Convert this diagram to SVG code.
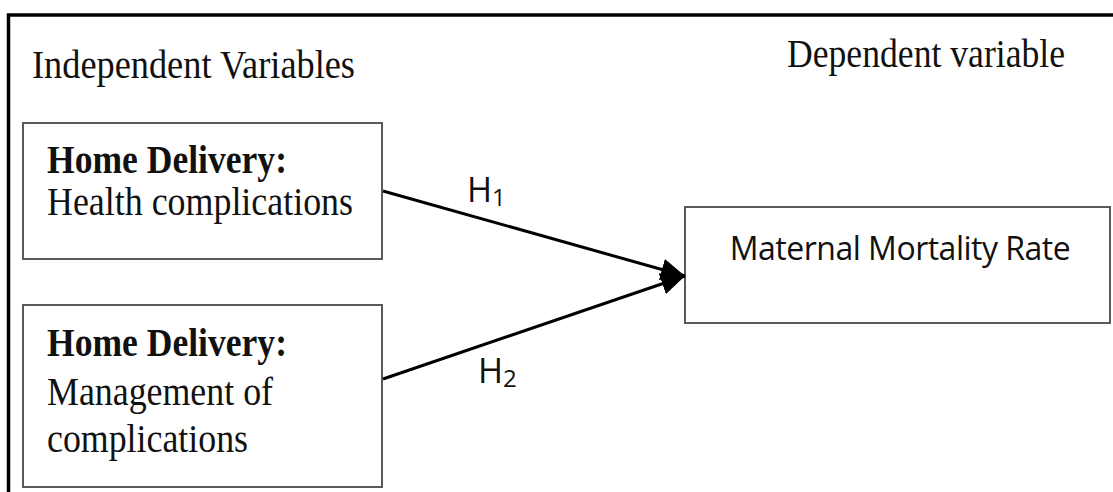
<svg xmlns="http://www.w3.org/2000/svg" width="1113" height="492" viewBox="0 0 1113 492">
<style>
.frame{fill:none;stroke:#000;stroke-width:3.5}
.box{fill:#fff;stroke:#5a5a5a;stroke-width:2}
.serif{font-family:"Liberation Serif","Times New Roman",serif;font-size:41px;fill:#111}
.b{font-weight:bold}
.sans{font-family:"Open Sans","Noto Sans","Liberation Sans",sans-serif;fill:#111}
.conn{stroke:#000;stroke-width:3;fill:none}
</style>
<defs>
<marker id="ah" markerUnits="userSpaceOnUse" markerWidth="26" markerHeight="26" viewBox="0 0 26 26" refX="24" refY="13" orient="auto">
<path d="M0,2 L24,13 L0,24 Z" fill="#000"/>
</marker>
</defs>
<path class="frame" d="M8.5,492 L8.5,15 L1113,15"/>
<text class="serif" x="32" y="78" textLength="323" lengthAdjust="spacingAndGlyphs">Independent Variables</text>
<text class="serif" x="787" y="67" textLength="278" lengthAdjust="spacingAndGlyphs">Dependent variable</text>
<g id="node-health">
<rect class="box" x="23" y="123" width="359" height="136"/>
<text class="serif b" x="47" y="173" textLength="240" lengthAdjust="spacingAndGlyphs">Home Delivery:</text>
<text class="serif" x="47" y="215" textLength="306" lengthAdjust="spacingAndGlyphs">Health complications</text>
</g>
<g id="node-management">
<rect class="box" x="23" y="305" width="359" height="182"/>
<text class="serif b" x="47" y="356" textLength="240" lengthAdjust="spacingAndGlyphs">Home Delivery:</text>
<text class="serif" x="47" y="405" textLength="226" lengthAdjust="spacingAndGlyphs">Management of</text>
<text class="serif" x="47" y="452" textLength="201" lengthAdjust="spacingAndGlyphs">complications</text>
</g>
<g id="node-mmr">
<rect class="box" x="685" y="207" width="425" height="116"/>
<text class="sans" x="900" y="260" font-size="32" text-anchor="middle" letter-spacing="-0.5">Maternal Mortality Rate</text>
</g>
<g id="connectors">
<line class="conn" x1="383" y1="191" x2="685" y2="276" marker-end="url(#ah)"/>
<line class="conn" x1="383" y1="379" x2="685" y2="276" marker-end="url(#ah)"/>
<text class="sans" x="467" y="202" font-size="34">H<tspan font-size="24" dy="4">1</tspan></text>
<text class="sans" x="478" y="383" font-size="34">H<tspan font-size="24" dy="4">2</tspan></text>
</g>
</svg>
